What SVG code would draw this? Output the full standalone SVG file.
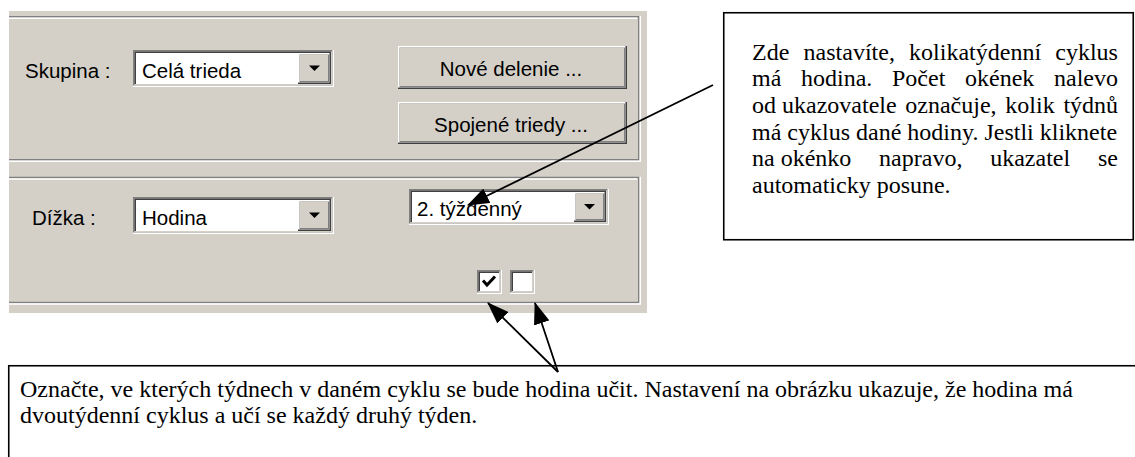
<svg xmlns="http://www.w3.org/2000/svg" width="1135" height="457" viewBox="0 0 1135 457">
  <style>
    .ui { font-family: "Liberation Sans", Arial, sans-serif; font-size: 20.5px; fill: #000; }
    .note { font-family: "Liberation Serif", "Times New Roman", serif; font-size: 24px; fill: #000; }
    .face { fill: #D4D0C8; }
    .dk { fill: #808080; }
    .bk { fill: #404040; }
    .wh { fill: #FFFFFF; }
    .etch-dk { fill: none; stroke: #808080; stroke-width: 1.5; }
    .etch-wh { fill: none; stroke: #FFFFFF; stroke-width: 1.5; }
    .frame { fill: #FFFFFF; stroke: #000; stroke-width: 1.6; }
    .conn { fill: none; stroke: #000; stroke-width: 1.8; marker-end: url(#head); }
  </style>
  <defs>
    <marker id="head" viewBox="0 0 22 16" refX="21" refY="8" markerWidth="22" markerHeight="16" markerUnits="userSpaceOnUse" orient="auto">
      <path d="M0,0 L22,8 L0,16 Z" fill="#000"/>
    </marker>
    <path id="dropArrow" d="M-5.5,0 H5.5 L0,5.5 Z" fill="#000"/>
  </defs>

  <rect width="1135" height="457" fill="#FFFFFF"/>

  <!-- dialog panel -->
  <g id="panel">
    <rect class="face" x="9" y="11" width="638" height="302"/>
    <!-- upper group frame -->
    <path class="etch-dk" d="M9,16.75 H638.75 V159.75 H9"/>
    <path class="etch-wh" d="M9,18.25 H637.25 M640.25,16 V161.25 H9"/>
    <!-- lower group frame -->
    <path class="etch-dk" d="M9,177.5 H638.75 V302.5 H9"/>
    <path class="etch-wh" d="M9,179 H637.25 M640.25,176.75 V304 H9"/>
  </g>

  <g id="label-skupina"><text class="ui" x="25" y="78">Skupina :</text></g>

  <g id="combo-skupina">
    <rect class="wh" x="133" y="50" width="201" height="37"/>
    <rect class="dk" x="133" y="50" width="199.5" height="35.5"/>
    <rect class="face" x="134.5" y="51.5" width="198" height="34"/>
    <rect class="bk" x="134.5" y="51.5" width="196.5" height="32.5"/>
    <rect class="wh" x="136" y="53" width="195" height="31"/>
    <rect class="bk" x="298" y="53" width="33" height="31"/>
    <rect class="wh" x="298" y="53" width="31.5" height="29.5"/>
    <rect class="dk" x="299.5" y="54.5" width="30" height="28"/>
    <rect class="face" x="299.5" y="54.5" width="28.5" height="26.5"/>
    <use href="#dropArrow" x="314.5" y="65.5"/>
    <text class="ui" x="142" y="78">Celá trieda</text>
  </g>

  <g id="btn-nove-delenie">
    <rect class="bk" x="398" y="46" width="229" height="43"/>
    <rect class="wh" x="398" y="46" width="227.5" height="41.5"/>
    <rect class="dk" x="399.5" y="47.5" width="226" height="40"/>
    <rect class="face" x="399.5" y="47.5" width="224.5" height="38.5"/>
    <text class="ui" x="511" y="76" text-anchor="middle">Nové delenie ...</text>
  </g>

  <g id="btn-spojene-triedy">
    <rect class="bk" x="398" y="102" width="229" height="42"/>
    <rect class="wh" x="398" y="102" width="227.5" height="40.5"/>
    <rect class="dk" x="399.5" y="103.5" width="226" height="39"/>
    <rect class="face" x="399.5" y="103.5" width="224.5" height="37.5"/>
    <text class="ui" x="511" y="131.5" text-anchor="middle">Spojené triedy ...</text>
  </g>

  <g id="label-dlzka"><text class="ui" x="32" y="225">Dížka :</text></g>

  <g id="combo-dlzka">
    <rect class="wh" x="133" y="197" width="201" height="37"/>
    <rect class="dk" x="133" y="197" width="199.5" height="35.5"/>
    <rect class="face" x="134.5" y="198.5" width="198" height="34"/>
    <rect class="bk" x="134.5" y="198.5" width="196.5" height="32.5"/>
    <rect class="wh" x="136" y="200" width="195" height="31"/>
    <rect class="bk" x="298" y="200" width="33" height="31"/>
    <rect class="wh" x="298" y="200" width="31.5" height="29.5"/>
    <rect class="dk" x="299.5" y="201.5" width="30" height="28"/>
    <rect class="face" x="299.5" y="201.5" width="28.5" height="26.5"/>
    <use href="#dropArrow" x="314.5" y="212.5"/>
    <text class="ui" x="142" y="225">Hodina</text>
  </g>

  <g id="combo-cyklus">
    <rect class="wh" x="409" y="189" width="200" height="36"/>
    <rect class="dk" x="409" y="189" width="198.5" height="34.5"/>
    <rect class="face" x="410.5" y="190.5" width="197" height="33"/>
    <rect class="bk" x="410.5" y="190.5" width="195.5" height="31.5"/>
    <rect class="wh" x="412" y="192" width="194" height="30"/>
    <rect class="bk" x="574" y="192" width="32" height="30"/>
    <rect class="wh" x="574" y="192" width="30.5" height="28.5"/>
    <rect class="dk" x="575.5" y="193.5" width="29" height="27"/>
    <rect class="face" x="575.5" y="193.5" width="27.5" height="25.5"/>
    <use href="#dropArrow" x="589.5" y="204"/>
    <text class="ui" x="417" y="216">2. týždenný</text>
  </g>

  <g id="check-week1">
    <rect class="wh" x="477" y="270" width="25" height="24"/>
    <rect class="dk" x="477" y="270" width="23.5" height="22.5"/>
    <rect class="face" x="478.5" y="271.5" width="22" height="21"/>
    <rect class="bk" x="478.5" y="271.5" width="20.5" height="19.5"/>
    <rect class="wh" x="480" y="273" width="19" height="18"/>
    <polyline points="483,280.5 487,285 495,276.5" fill="none" stroke="#000" stroke-width="3"/>
  </g>

  <g id="check-week2">
    <rect class="wh" x="510" y="270" width="25" height="24"/>
    <rect class="dk" x="510" y="270" width="23.5" height="22.5"/>
    <rect class="face" x="511.5" y="271.5" width="22" height="21"/>
    <rect class="bk" x="511.5" y="271.5" width="20.5" height="19.5"/>
    <rect class="wh" x="513" y="273" width="19" height="18"/>
  </g>

  <!-- callout: cycle length -->
  <g id="note-cyklus">
    <rect class="frame" x="723.75" y="12.75" width="409.5" height="227"/>
    <text class="note" y="59.5"><tspan x="752">Zde</tspan><tspan x="803.6">nastavíte,</tspan><tspan x="909.1">kolikatýdenní</tspan><tspan x="1055.3">cyklus</tspan></text>
    <text class="note" y="86.2"><tspan x="752">má</tspan><tspan x="801">hodina.</tspan><tspan x="892">Počet</tspan><tspan x="965">okének</tspan><tspan x="1054">nalevo</tspan></text>
    <text class="note" y="112.8"><tspan x="752">od</tspan><tspan x="782">ukazovatele</tspan><tspan x="905.3">označuje,</tspan><tspan x="1005.3">kolik</tspan><tspan x="1063.4">týdnů</tspan></text>
    <text class="note" x="752" y="139.5">má cyklus dané hodiny. Jestli kliknete</text>
    <text class="note" y="166.2"><tspan x="752">na</tspan><tspan x="780.7">okénko</tspan><tspan x="879.1">napravo,</tspan><tspan x="990.2">ukazatel</tspan><tspan x="1098">se</tspan></text>
    <text class="note" x="752" y="192.8">automaticky posune.</text>
  </g>

  <!-- callout: week selection -->
  <g id="note-tydny">
    <rect class="frame" x="8.75" y="365.75" width="1140" height="200"/>
    <text class="note" x="20" y="397">Označte, ve kterých týdnech v daném cyklu se bude hodina učit. Nastavení na obrázku ukazuje, že hodina má</text>
    <text class="note" x="20" y="423">dvoutýdenní cyklus a učí se každý druhý týden.</text>
  </g>

  <g id="connectors">
    <line class="conn" x1="713" y1="85" x2="468" y2="205"/>
    <line class="conn" x1="558" y1="372" x2="488" y2="303"/>
    <line class="conn" x1="558" y1="372" x2="535" y2="303"/>
  </g>
</svg>
